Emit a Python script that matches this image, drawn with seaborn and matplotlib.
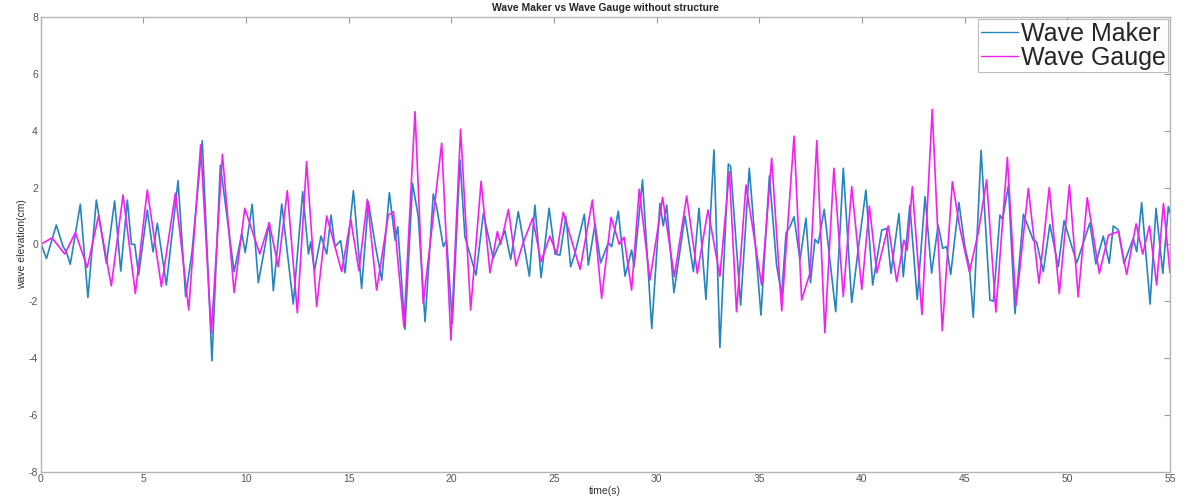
import matplotlib
matplotlib.use("Agg")
import matplotlib.pyplot as plt
import seaborn as sns
import pandas as pd

maker_t = [0.0, 0.28, 0.76, 1.09, 1.25, 1.44, 1.93, 2.3, 2.71, 3.2, 3.6, 3.9, 4.22, 4.42, 4.58, 4.77, 5.19, 5.47, 5.68, 6.12, 6.69, 7.06, 7.37, 7.87, 8.34, 8.75, 9.42, 9.8, 9.96, 10.3, 10.6,
           11.13, 11.33, 11.74, 12.3, 12.76, 13.04, 13.15, 13.33, 13.65, 13.93, 14.14, 14.33, 14.61, 14.82, 15.23, 15.63, 15.96, 16.28, 16.61, 16.98, 17.26, 17.39, 17.74, 18.11, 18.39, 18.72, 19.12, 19.28, 19.61, 19.77, 20.05, 20.42, 20.66, 21.2, 21.56,
           22.04, 22.61, 22.89, 23.26, 23.8, 24.07, 24.37, 24.76, 25.05, 25.29, 25.58, 25.81, 26.02, 26.48, 26.67, 27.0, 27.27, 27.65, 27.81, 28.13, 28.46, 28.78, 28.9, 29.31, 29.76, 30.16, 30.32, 30.49, 30.84, 31.38, 31.79, 32.06,
           32.4, 32.79, 33.08, 33.49, 33.6, 34.09, 34.51, 35.08, 35.49, 35.84, 36.09, 36.3, 36.49, 36.69, 36.98, 37.27, 37.49, 37.71, 37.87, 38.16, 38.72, 39.09, 39.5, 39.82, 40.19, 40.52, 40.96, 41.2, 41.41, 41.8, 42.01, 42.33, 42.69, 43.07,
           43.39, 43.71, 43.93, 44.12, 44.32, 44.72, 45.01, 45.23, 45.42, 45.8, 46.23, 46.4, 46.72, 46.85, 47.13, 47.45, 47.86, 48.34, 48.5, 48.83, 49.15, 49.56, 49.84, 50.46, 51.1, 51.39, 51.75, 52.04, 52.24, 52.49, 52.76, 53.21, 53.38, 53.62, 54.03, 54.32, 54.65, 54.92, 55.0]
maker_v = [0.05, -0.5, 0.68, -0.08, -0.26, -0.7, 1.41, -1.87, 1.56, -0.67, 1.53, -0.94, 1.56, 0.0, 0.0, -1.08, 1.21, -0.26, 0.74, -1.43, 2.24, -1.84, -0.26, 3.65, -4.1, 2.79, -0.96, 0.39, -0.29, 1.41, -1.35,
           0.76, -1.63, 1.42, -2.1, 1.85, -0.34, 0.09, -0.93, 0.29, -0.34, 1.03, -0.08, 0.13, -1.0, 1.89, -1.55, 1.5, 0.04, -1.26, 1.82, 0.15, 0.62, -2.99, 2.15, 0.97, -2.72, 1.77, 1.33, -0.08, 0.15, -2.78, 2.97, 0.27, -1.08, 1.09,
           -0.49, 0.48, -0.53, 1.15, -1.12, 1.38, -1.17, 1.27, -0.34, -0.38, 0.97, -0.79, -0.32, 1.06, -0.73, 0.72, -0.65, 0.06, -0.08, 1.17, -1.12, -0.2, -0.79, 2.27, -2.96, 1.44, 0.65, 1.38, -1.7, 1.0, -0.96, 1.27,
           -1.94, 3.32, -3.63, 2.83, 2.74, -2.14, 2.68, -2.49, 2.41, -0.73, -1.79, 0.39, 0.62, 0.97, -0.55, 0.92, -1.35, 0.18, 0.04, 1.23, -2.37, 2.68, -2.05, -0.15, 1.91, -1.43, 0.5, 0.56, -1.02, 1.09, -1.14, 1.38, -1.94, 1.68,
           -1.01, 0.68, -0.14, -0.08, -1.06, 1.47, -0.08, -0.79, -2.57, 3.31, -1.96, -2.0, 1.03, 0.88, 2.07, -2.44, 1.06, 0.15, 0.09, -0.96, 0.7, -0.79, 0.83, -0.65, 0.76, -0.69, 0.29, -0.67, 0.65, 0.5, -0.67, 0.21, -0.26, 1.47, -2.1, 1.27, -1.02, 1.33, 1.1]

gauge_t = [0.0, 0.55, 1.17, 1.69, 2.27, 2.82, 3.44, 4.01, 4.61, 5.19, 5.88, 6.56, 7.21, 7.79, 8.31, 8.85, 9.42, 9.94, 10.67, 11.13, 11.57, 12.01, 12.5, 12.95, 13.44, 13.93, 14.66, 15.1, 15.5, 15.91, 16.36, 16.93, 17.18, 17.69, 18.23, 18.63, 19.53, 19.98, 20.45, 20.94, 21.45, 21.88,
           22.24, 22.4, 22.78, 23.15, 23.5, 23.96, 24.37, 24.8, 25.13, 25.45, 26.27, 26.87, 27.32, 27.78, 28.18, 28.41, 28.78, 29.15, 29.67, 30.29, 30.86, 31.46, 31.98, 32.5, 33.08, 33.54, 33.89, 34.35, 35.11, 35.6, 36.09, 36.69, 37.06, 37.47, 37.8, 38.19, 38.63, 39.09, 39.5, 39.99, 40.36, 40.72, 41.28, 41.69, 42.04, 42.2, 42.45, 42.92,
           43.42, 43.91, 44.4, 44.77, 45.23, 45.66, 46.07, 46.52, 47.08, 47.5, 48.1, 48.62, 49.12, 49.61, 50.1, 50.53, 50.97, 51.56, 52.0, 52.49, 52.89, 53.35, 53.67, 54.0, 54.35, 54.68, 55.0]
gauge_v = [0.0, 0.23, -0.34, 0.41, -0.81, 1.01, -1.46, 1.74, -1.73, 1.91, -1.49, 1.8, -2.31, 3.5, -3.13, 3.17, -1.7, 1.27, -0.34, 0.76, -0.79, 1.89, -2.41, 2.91, -2.19, 1.0, -0.96, 0.88, -0.93, 1.58, -1.61, 1.03, 1.15, -2.9, 4.67, -2.08, 3.56, -3.37, 4.05, -2.31, 2.22, -1.0,
           0.45, 0.0, 1.23, -0.76, 0.06, 0.92, -0.61, 0.29, -0.34, 1.13, -0.88, 1.56, -1.9, 0.95, 0.0, 0.25, -1.61, 1.94, -1.26, 1.65, -1.14, 1.7, -1.02, 1.21, -1.12, 2.56, -2.37, 2.09, -1.43, 3.03, -2.34, 3.81, -1.96, -1.0, 3.65, -3.11, 2.68, -1.84, 2.03, -1.58, 1.35, -1.0, 0.65, -1.31, 0.15, -0.2, 2.03, -2.47,
           4.75, -3.04, 2.2, 0.56, -0.97, 0.4, 2.27, -2.38, 3.06, -2.15, 1.97, -1.37, 2.0, -1.73, 2.09, -1.85, 1.64, -1.02, 0.32, 0.45, -1.06, 0.72, -0.34, 0.65, -1.43, 1.44, -1.0]

series_names = ["Wave Maker", "Wave Gauge"]
x_ticks = list(range(0, 56, 5))
y_ticks = list(range(-8, 9, 2))

df = pd.concat([
    pd.DataFrame({"time": maker_t, "elev": maker_v, "series": series_names[0]}),
    pd.DataFrame({"time": gauge_t, "elev": gauge_v, "series": series_names[1]}),
], ignore_index=True)

sns.set_style("white")
plt.rcParams["font.family"] = ["Liberation Sans", "DejaVu Sans"]
plt.rcParams["axes.unicode_minus"] = False

fig = plt.figure(figsize=(11.83, 5.01), dpi=100)
ax = fig.add_axes([0.0344, 0.0585, 0.9546, 0.9075])

palette = {"Wave Maker": "#2585bf", "Wave Gauge": "#f51ef5"}
sns.lineplot(data=df, x="time", y="elev", hue="series", palette=palette,
             hue_order=series_names, estimator=None, sort=False,
             linewidth=1.2, ax=ax)
for ln in ax.get_lines():
    ln.set_solid_joinstyle("round")

ax.set_xlim(0, 55)
ax.set_ylim(-8, 8)
ax.set_xticks(x_ticks)
ax.set_yticks(y_ticks)
ax.tick_params(direction="in", length=4, width=0.8, colors="#9a9a9a",
               labelcolor="#555555", labelsize=7.5, top=True, right=True,
               pad=2)
for s in ax.spines.values():
    s.set_color("#b5b5b5")
    s.set_linewidth(1.0)

ax.set_title("Wave Maker vs Wave Gauge without structure", fontsize=7.5,
             fontweight="bold", pad=4)
ax.set_xlabel("time(s)", fontsize=7.5, labelpad=1, color="#333333")
ax.set_ylabel("wave elevation(cm)", fontsize=7.5, labelpad=1, color="#333333")

leg = ax.legend(loc="upper right", fontsize=18, frameon=True, fancybox=False,
                handlelength=1.5, handletextpad=0.1, borderpad=0.1,
                labelspacing=0.0, borderaxespad=0.08)
leg.get_frame().set_edgecolor("#aaaaaa")
leg.get_frame().set_linewidth(0.8)
for line in leg.get_lines():
    line.set_linewidth(1.0)

fig.savefig("out.png", dpi=100)
